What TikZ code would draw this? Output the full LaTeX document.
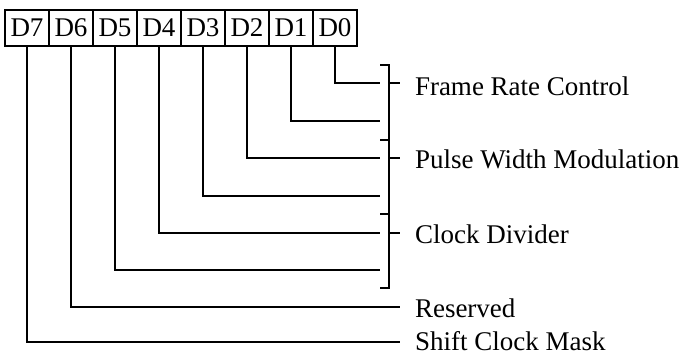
\documentclass[tikz,border=0pt]{standalone}
\usepackage{fontspec}
\setmainfont{Liberation Serif}
\begin{document}
\begin{tikzpicture}[x=1pt,y=-1pt,line width=2pt,
  bit/.style={draw,line width=1.8pt,minimum width=44pt,minimum height=36pt,inner sep=0pt,font=\fontsize{27}{29}\selectfont},
  lbl/.style={anchor=base west,inner sep=0pt,font=\fontsize{27}{30}\selectfont},
  wire/.style={line width=2pt}]
\useasboundingbox (0,0) rectangle (685,356);
% register bits
\foreach \i/\x in {7/27,6/71,5/115,4/159,3/203,2/247,1/291,0/335}
  \node[bit] (d\i) at (\x,28) {D\i};
% wire ends
\foreach \i/\y in {0/83,1/121,2/158,3/196,4/233,5/270}
  \coordinate (e\i) at (380,\y);
\coordinate (e6) at (400,307);
\coordinate (e7) at (400,342);
\foreach \i in {0,...,7}
  \draw[wire] (d\i.south) |- (e\i);
% bracket
\coordinate (btop) at (380,65);
\coordinate (bbot) at (380,288);
\draw[wire] (btop) -| (389,288) -- (bbot);
\draw[wire] (380,140) -- (389,140);
\draw[wire] (380,214) -- (389,214);
\draw[wire] (389,83) -- (400,83);
\draw[wire] (389,158) -- (400,158);
\draw[wire] (389,233) -- (400,233);
% labels
\node[lbl] (l1) at (414,95) {Frame Rate Control};
\node[lbl] (l2) at (414,168) {Pulse Width Modulation};
\node[lbl] (l3) at (414,243) {Clock Divider};
\node[lbl] (l4) at (414,317) {Reserved};
\node[lbl] (l5) at (414,350) {Shift Clock Mask};
\end{tikzpicture}
\end{document}
